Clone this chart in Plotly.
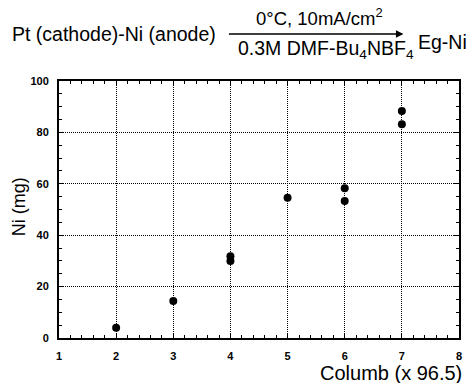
import plotly.graph_objects as go

# Data
columb = [2, 3, 4, 4, 5, 6, 6, 7, 7]
ni_mg = [4, 14.4, 31.8, 30.0, 54.6, 58.3, 53.3, 88.3, 83.2]
x_ticks = [1, 2, 3, 4, 5, 6, 7, 8]
y_ticks = [0, 20, 40, 60, 80, 100]

W, H = 471, 383
L, R, T, B = 59, 9, 81, 45
PW, PH = W - L - R, H - T - B

def px(x):
    return (x - L) / PW

def py(y):
    return (H - B - y) / PH

FONT = "Liberation Sans, Arial, Helvetica, sans-serif"

fig = go.Figure()
fig.add_trace(go.Scatter(
    x=columb, y=ni_mg, mode="markers",
    marker=dict(color="black", size=8, symbol="circle"),
    showlegend=False, cliponaxis=False,
))

axis_common = dict(
    showline=True, linecolor="black", linewidth=2, mirror="allticks",
    ticks="inside", ticklen=5, tickwidth=1, tickcolor="black",
    showgrid=True, gridcolor="black", griddash="1px,1px", gridwidth=1.2,
    zeroline=False,
    tickfont=dict(family=FONT, size=11, color="black", weight="bold"),
)

fig.update_xaxes(
    range=[1, 8], tickvals=x_ticks, ticktext=[str(v) for v in x_ticks],
    minor=dict(dtick=0.2, ticks="inside", ticklen=3, tickcolor="black", showgrid=False),
    ticklabelstandoff=7,
    **axis_common,
)
fig.update_yaxes(
    range=[0, 100], tickvals=y_ticks, ticktext=[str(v) for v in y_ticks],
    minor=dict(dtick=5, ticks="inside", ticklen=3, tickcolor="black", showgrid=False),
    ticklabelstandoff=6,
    **axis_common,
)

annots = [
    dict(text="Pt (cathode)-Ni (anode)", x=px(10), y=py(34), xanchor="left", yanchor="middle", size=19.5),
    dict(text="0°C, 10mA/cm<sup>2</sup>", x=px(321), y=py(17), xanchor="center", yanchor="middle", size=18.5),
    dict(text="0.3M DMF-Bu<sub>4</sub>NBF<sub>4</sub>", x=px(328), y=py(49), xanchor="center", yanchor="middle", size=19.5),
    dict(text="Eg-Ni", x=px(419), y=py(42), xanchor="left", yanchor="middle", size=19.5),
    dict(text="Columb (x 96.5)", x=px(467), y=py(373), xanchor="right", yanchor="middle", size=20),
]
for a in annots:
    fig.add_annotation(
        text=a["text"], x=a["x"], y=a["y"], xref="paper", yref="paper",
        xanchor=a["xanchor"], yanchor=a["yanchor"], showarrow=False,
        font=dict(family=FONT, size=a["size"], color="black"),
    )

fig.add_annotation(
    text="Ni (mg)", x=px(19), y=py(207), xref="paper", yref="paper",
    xanchor="center", yanchor="middle", showarrow=False, textangle=-90,
    font=dict(family=FONT, size=18, color="black"),
)

# reaction arrow
fig.add_annotation(
    text="", x=px(406), y=py(34), xref="paper", yref="paper",
    ax=-176, ay=0, axref="pixel", ayref="pixel",
    showarrow=True, arrowhead=2, arrowsize=1, arrowwidth=1.5, arrowcolor="black",
)

fig.update_layout(
    width=W, height=H,
    margin=dict(l=L, r=R, t=T, b=B, pad=0),
    paper_bgcolor="white", plot_bgcolor="white",
    font=dict(family=FONT, color="black"),
)

fig.write_html("out.html", config={"displayModeBar": False},
               post_script="document.body.style.margin='0';")
